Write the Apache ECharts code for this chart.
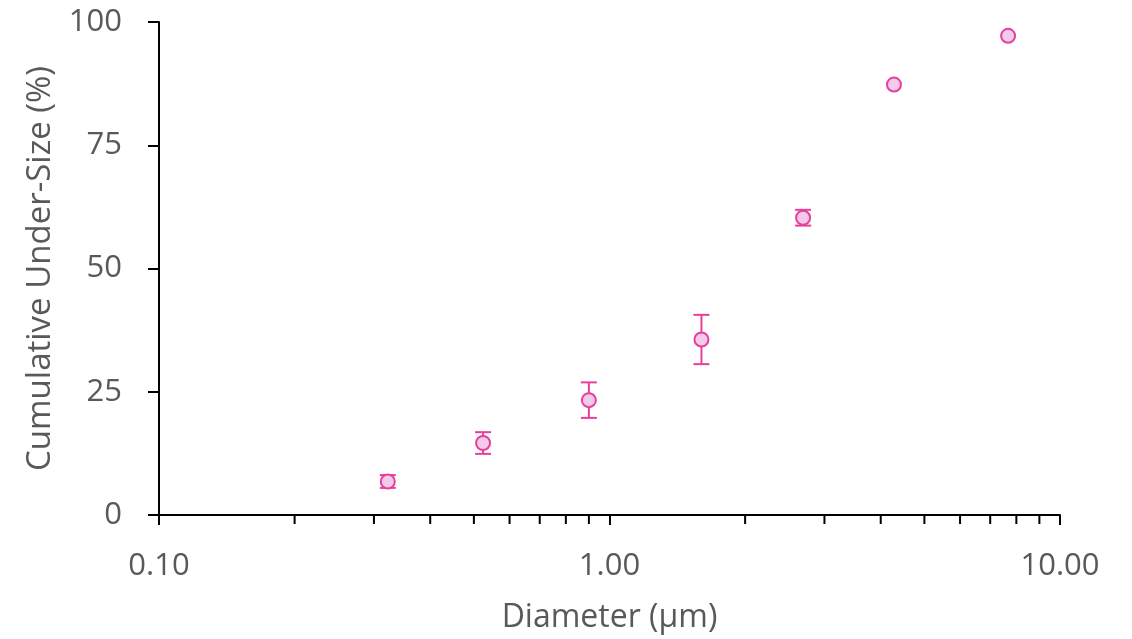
<!DOCTYPE html>
<html>
<head>
<meta charset="utf-8">
<script src="https://cdn.jsdelivr.net/npm/echarts@6/dist/echarts.min.js"></script>
<style>html,body{margin:0;padding:0;background:#fff}#c{width:1132px;height:639px}</style>
</head>
<body>
<div id="c"></div>
<script>
var diameters = [0.322, 0.524, 0.90, 1.60, 2.69, 4.28, 7.67];
var undersize = [6.8, 14.6, 23.3, 35.6, 60.3, 87.3, 97.2];
var errors = [1.3, 2.2, 3.6, 5.0, 1.6, 0, 0];
var xTickLabels = {0.1: '0.10', 1: '1.00', 10: '10.00'};
var yTicks = [0, 25, 50, 75, 100];
var minorTickValues = [0.2,0.3,0.4,0.5,0.6,0.7,0.8,0.9,2,3,4,5,6,7,8,9];

var pink = '#e8409a';
var fillPink = '#f4caec';
var textGrey = '#595959';
var font = 'Open Sans';

var chart = echarts.init(document.getElementById('c'), null, {renderer: 'canvas'});

var points = diameters.map(function (d, i) { return [d, undersize[i]]; });
var errData = diameters.map(function (d, i) { return [d, undersize[i] - errors[i], undersize[i] + errors[i]]; });

chart.setOption({
  animation: false,
  grid: {left: 159, right: 72, top: 22, bottom: 120, containLabel: false},
  xAxis: {
    type: 'log', logBase: 10, min: 0.1, max: 10,
    name: 'Diameter (\u00b5m)', nameLocation: 'middle', nameGap: 87,
    nameTextStyle: {color: textGrey, fontSize: 32, fontFamily: font},
    axisLine: {show: true, lineStyle: {color: '#000', width: 2}},
    axisTick: {show: true, length: 10, lineStyle: {color: '#000', width: 2}},
    axisLabel: {color: textGrey, fontSize: 31, fontFamily: font, margin: 36,
      formatter: function (v) { var k = Math.round(v * 100) / 100; return xTickLabels[k] || ''; }},
    splitLine: {show: false}
  },
  yAxis: {
    type: 'value', min: 0, max: 100, interval: 25,
    name: 'Cumulative Under-Size (%)', nameLocation: 'middle', nameGap: 102,
    nameTextStyle: {color: textGrey, fontSize: 33, fontFamily: font},
    axisLine: {show: true, lineStyle: {color: '#000', width: 2}},
    axisTick: {show: true, length: 11, lineStyle: {color: '#000', width: 2}},
    axisLabel: {color: textGrey, fontSize: 31, fontFamily: font, margin: 37},
    splitLine: {show: false}
  },
  series: [
    {
      type: 'custom',
      name: 'minorTicks',
      silent: true,
      data: minorTickValues.map(function (v) { return [v, 0]; }),
      renderItem: function (params, api) {
        var p = api.coord([api.value(0), 0]);
        return {type: 'line', shape: {x1: p[0], y1: p[1], x2: p[0], y2: p[1] + 9},
          style: {stroke: '#000', lineWidth: 2}};
      },
      z: 1
    },
    {
      type: 'custom',
      name: 'errorBars',
      data: errData,
      renderItem: function (params, api) {
        var x = api.value(0);
        var lo = api.coord([x, api.value(1)]);
        var hi = api.coord([x, api.value(2)]);
        var hw = 8;
        if (Math.abs(hi[1] - lo[1]) < 1) return null;
        return {type: 'group', children: [
          {type: 'line', shape: {x1: lo[0], y1: lo[1], x2: hi[0], y2: hi[1]}, style: {stroke: pink, lineWidth: 2}},
          {type: 'line', shape: {x1: hi[0] - hw, y1: hi[1], x2: hi[0] + hw, y2: hi[1]}, style: {stroke: pink, lineWidth: 2}},
          {type: 'line', shape: {x1: lo[0] - hw, y1: lo[1], x2: lo[0] + hw, y2: lo[1]}, style: {stroke: pink, lineWidth: 2}}
        ]};
      },
      z: 2
    },
    {
      type: 'scatter',
      name: 'data',
      data: points,
      symbol: 'circle',
      symbolSize: 14,
      itemStyle: {color: fillPink, borderColor: pink, borderWidth: 2, opacity: 1},
      z: 3
    }
  ]
});
</script>
</body>
</html>
